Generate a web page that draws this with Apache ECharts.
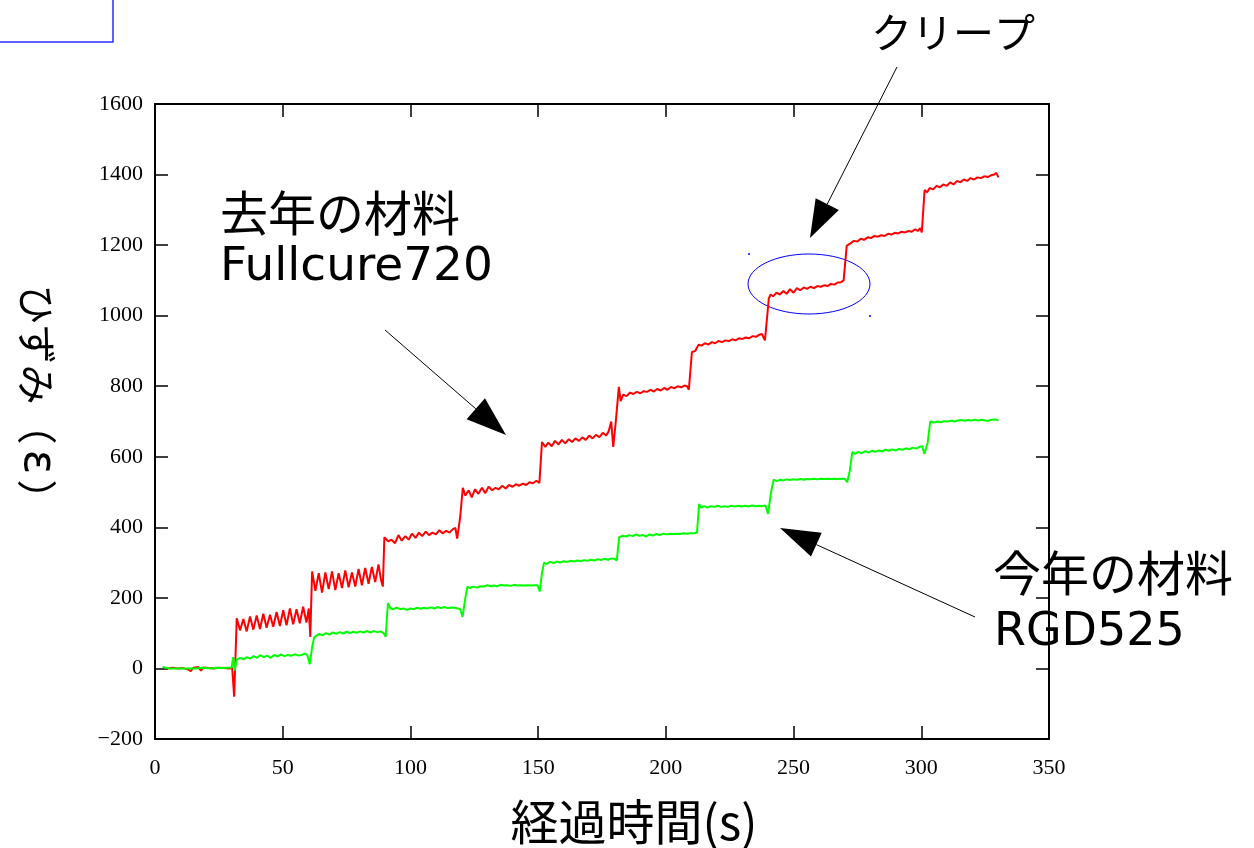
<!DOCTYPE html>
<html>
<head>
<meta charset="utf-8">
<script src="https://cdn.jsdelivr.net/npm/echarts@6/dist/echarts.min.js"></script>
<style>
html,body{margin:0;padding:0;background:#fff;}
#chart{width:1254px;height:848px;}
</style>
</head>
<body>
<div id="chart"></div>
<script>
// ---- data ----
const xTicks = [0, 50, 100, 150, 200, 250, 300, 350];
const yTicks = [-200, 0, 200, 400, 600, 800, 1000, 1200, 1400, 1600];

const redT = [5,7,9,11,13,14,15,17,18,19,21,23,25,27,29,30.2,31,32,
33.3,34.6,35.9,37.2,38.5,39.8,41.1,42.4,43.7,45,46.3,47.6,48.9,50.2,51.5,52.8,54.1,55.4,56.7,58,59.3,60.2,60.8,61.5,
62.8,64.1,65.4,66.7,68,69.3,70.6,71.9,73.2,74.5,75.8,77.1,78.4,79.7,81,82.3,83.6,84.9,86.2,87.5,88.5,89.2,89.8,
91.3,92.6,94,95.3,96.6,98,99.3,100.6,102,103.3,104.6,106,107.3,108.6,110,111.3,112.6,114,115.3,116.6,117.6,118.3,119.5,120.5,
121.5,122.8,124,125.3,126.6,128,129.3,130.6,132,133.3,134.6,136,137.3,138.6,140,141.3,142.6,144,145.3,146.6,148,149.3,150.5,151.5,
152.8,154,155.3,156.6,158,159.3,160.6,162,163.3,164.6,166,167.3,168.6,170,171.3,172.6,174,175.3,176.6,177.6,178.6,179.4,180.4,181.6,
182.3,183.3,184.6,186,187.3,188.6,190,191.3,192.6,194,195.3,196.6,198,199.3,200.6,202,203.3,204.6,206,207.3,208.3,209,210.2,
211.5,212.8,214,215.3,216.6,218,219.3,220.6,222,223.3,224.6,226,227.3,228.6,230,231.3,232.6,234,235.3,236.6,237.6,238.8,240.3,
241,242,243.3,244.6,246,247.3,248.6,250,251.3,252.6,254,255.3,256.6,258,259.3,260.6,262,263.3,264.6,266,267.3,268.6,269.6,270.8,
272.3,273.6,275,276.3,277.6,279,280.3,281.6,283,284.3,285.6,287,288.3,289.6,291,292.3,293.6,295,296.3,297.6,298.6,299.6,300.2,301.3,
302.3,303.3,304.6,306,307.3,308.6,310,311.3,312.6,314,315.3,316.6,318,319.3,320.6,322,323.3,324.6,326,327.3,328.6,329.4,330.2];
const redV = [0,2,0,1,-3,-8,2,4,-6,3,1,0,2,1,0,2,-80,142,
108,140,105,147,110,150,112,155,115,152,118,160,120,165,122,170,125,168,128,175,130,170,89,275,
220,270,215,272,225,275,222,270,228,278,230,272,232,282,236,285,240,288,245,295,250,232,372,
360,365,355,378,362,375,365,382,370,385,375,388,378,385,380,392,383,390,385,395,398,368,430,512,
490,505,485,508,495,512,497,515,505,512,508,518,510,520,515,522,518,524,520,528,525,532,526,642,
628,640,630,645,635,648,638,650,642,652,645,655,648,660,652,662,656,668,660,672,700,628,700,798,
758,776,772,782,778,784,780,786,784,790,785,792,788,795,790,798,794,800,797,802,800,790,897,
900,918,915,922,918,925,922,928,925,930,928,933,930,936,934,938,936,942,940,946,948,930,1048,
1060,1055,1065,1060,1070,1062,1075,1065,1078,1072,1080,1076,1082,1078,1084,1082,1086,1084,1090,1088,1094,1095,1100,1198,
1205,1212,1210,1218,1215,1222,1220,1226,1224,1228,1226,1232,1230,1235,1233,1238,1236,1240,1238,1245,1240,1248,1236,1356,
1350,1362,1358,1368,1364,1372,1368,1378,1372,1382,1378,1386,1382,1390,1386,1392,1390,1395,1393,1398,1400,1405,1392];

const greenT = [3,4,6,8,10,12,14,16,18,20,22,24,26,28,30,30.6,31.2,32,
33.3,34.6,36,37.3,38.6,40,41.3,42.6,44,45.3,46.6,48,49.3,50.6,52,53.3,54.6,56,57.3,58.6,59.6,60.6,61.5,62.3,
63,64.3,65.6,67,68.3,69.6,71,72.3,73.6,75,76.3,77.6,79,80.3,81.6,83,84.3,85.6,87,88.3,89.5,90.3,91.2,
92.2,93.3,94.6,96,97.3,98.6,100,101.3,102.6,104,105.3,106.6,108,109.3,110.6,112,113.3,114.6,116,117.3,118.6,119.5,120.4,121.5,122.3,
123.3,124.6,126,127.3,128.6,130,131.3,132.6,134,135.3,136.6,138,139.3,140.6,142,143.3,144.6,146,147.3,148.6,149.8,150.6,151.5,152.3,
153.3,154.6,156,157.3,158.6,160,161.3,162.6,164,165.3,166.6,168,169.3,170.6,172,173.3,174.6,176,177.3,178.6,180,180.8,181.7,
183,184.3,185.6,187,188.3,189.6,191,192.3,193.6,195,196.3,197.6,199,200.3,201.6,203,204.3,205.6,207,208.3,209.6,211,212.2,213,
213.8,215,216.3,217.6,219,220.3,221.6,223,224.3,225.6,227,228.3,229.6,231,232.3,233.6,235,236.3,237.6,239,240,241.2,242.2,
243.5,244.8,246,247.3,248.6,250,251.3,252.6,254,255.3,256.6,258,259.3,260.6,262,263.3,264.6,266,267.3,268.6,270,271,272,273,
274,275.3,276.6,278,279.3,280.6,282,283.3,284.6,286,287.3,288.6,290,291.3,292.6,294,295.3,296.6,298,299.3,300.4,301.2,302.5,303.5,
305,306.3,307.6,309,310.3,311.6,313,314.3,315.6,317,318.3,319.6,321,322.3,323.6,325,326.3,327.6,329,330.2];
const greenV = [5,2,0,0,0,0,0,0,2,1,0,2,1,2,3,32,-6,25,
30,26,32,28,35,30,38,32,36,30,38,34,40,35,38,36,40,37,38,42,38,12,60,88,
92,98,94,100,96,102,98,103,99,104,100,104,101,105,102,106,102,106,103,105,100,90,185,
170,168,172,168,170,166,170,168,172,169,172,170,173,170,174,171,174,171,173,172,170,168,146,200,232,
228,232,229,233,232,236,233,235,233,237,235,236,234,237,235,236,235,236,235,236,236,218,270,300,
296,302,299,303,300,304,302,305,303,306,304,307,305,308,306,310,307,311,308,312,310,306,372,
376,374,378,375,380,376,378,374,380,377,381,378,382,380,382,381,382,381,383,382,383,383,385,466,
456,460,456,460,458,461,458,460,458,461,459,461,459,461,459,462,460,461,460,462,438,500,535,
531,535,533,536,534,536,535,537,535,537,536,538,536,538,537,538,537,538,537,538,538,528,560,614,
608,614,610,616,612,617,614,618,615,620,617,621,618,622,620,624,621,626,623,628,630,608,640,700,
697,700,698,701,700,702,700,703,704,702,704,703,705,703,705,703,702,705,706,703];

const labels = {
  xTitle: '経過時間(s)',
  yTitleMain: 'ひずみ',
  yTitleSym: 'ε',
  creep: 'クリープ',
  oldMat: ['去年の材料', 'Fullcure720'],
  newMat: ['今年の材料', 'RGD525']
};

// ---- build ----
const zip = (t, v) => t.map((x, i) => [x, v[i]]);
const chart = echarts.init(document.getElementById('chart'), null, {renderer: 'canvas'});

const serif = '"Liberation Serif", "Times New Roman", serif';
const cjk = '"Noto Sans CJK JP", "Noto Sans", sans-serif';
const latin = '"DejaVu Sans", "Noto Sans", sans-serif';

function axisCommon() {
  return {
    axisLine: {show: true, onZero: false, lineStyle: {color: '#000', width: 2}},
    axisTick: {show: true, inside: true, length: 13, lineStyle: {color: '#000', width: 1.5}},
    axisLabel: {show: false},
    splitLine: {show: false}
  };
}

function arrow(x1, y1, tx, ty, len, half) {
  const dx = tx - x1, dy = ty - y1;
  const L = Math.sqrt(dx * dx + dy * dy);
  const ux = dx / L, uy = dy / L;
  const bx = tx - ux * len, by = ty - uy * len;
  const px = -uy * half, py = ux * half;
  return [
    {type: 'line', shape: {x1: x1, y1: y1, x2: bx, y2: by}, style: {stroke: '#000', lineWidth: 1}, silent: true},
    {type: 'polygon', shape: {points: [[tx, ty], [bx + px, by + py], [bx - px, by - py]]}, style: {fill: '#000'}, silent: true}
  ];
}

const fmtMinus = v => String(v).replace('-', '\u2212');

const option = {
  animation: false,
  backgroundColor: '#fff',
  grid: {left: 155, right: 205, top: 104, bottom: 109, containLabel: false},
  xAxis: [
    Object.assign(axisCommon(), {
      type: 'value', position: 'bottom', min: 0, max: 350, interval: 50,
      axisLabel: {show: true, color: '#000', fontFamily: serif, fontSize: 22, margin: 18, formatter: fmtMinus}
    }),
    Object.assign(axisCommon(), {
      type: 'value', position: 'top', min: 0, max: 350, interval: 50
    })
  ],
  yAxis: [
    Object.assign(axisCommon(), {
      type: 'value', position: 'left', min: -200, max: 1600, interval: 200,
      axisLabel: {show: true, color: '#000', fontFamily: serif, fontSize: 22, margin: 12, formatter: fmtMinus}
    }),
    Object.assign(axisCommon(), {
      type: 'value', position: 'right', min: -200, max: 1600, interval: 200
    })
  ],
  series: [
    {
      name: 'Fullcure720', type: 'line', data: zip(redT, redV), showSymbol: false, symbol: 'none',
      lineStyle: {color: '#ff0000', width: 2}, itemStyle: {color: '#ff0000'}, clip: true
    },
    {
      name: 'RGD525', type: 'line', data: zip(greenT, greenV), showSymbol: false, symbol: 'none',
      lineStyle: {color: '#00ff00', width: 2}, itemStyle: {color: '#00ff00'}, clip: true
    }
  ],
  graphic: [
    {type: 'polyline', shape: {points: [[0, 42], [113, 42], [113, 0]]}, style: {stroke: '#2b2bff', lineWidth: 1.5, fill: null}, silent: true},
    {type: 'ellipse', shape: {cx: 809, cy: 284, rx: 61, ry: 30}, style: {stroke: '#0000ff', lineWidth: 1, fill: null}, silent: true},
    {type: 'rect', shape: {x: 748, y: 253, width: 2, height: 2}, style: {fill: '#4040ff'}, silent: true},
    {type: 'rect', shape: {x: 869, y: 315, width: 2, height: 2}, style: {fill: '#4040ff'}, silent: true},
    ...arrow(897, 67, 810, 238, 38, 13),
    ...arrow(385, 330, 506, 435, 40, 14),
    ...arrow(975, 617, 780, 528, 40, 13),
    {type: 'text', style: {text: labels.creep, x: 871, y: 32, font: '41px ' + cjk, fill: '#000', textAlign: 'left', textVerticalAlign: 'middle'}, silent: true},
    {type: 'text', style: {text: labels.oldMat[0], x: 220, y: 213, font: '48px ' + cjk, fill: '#000', textAlign: 'left', textVerticalAlign: 'middle'}, silent: true},
    {type: 'text', style: {text: labels.oldMat[1], x: 220, y: 268, font: '47px ' + latin, fill: '#000', textAlign: 'left', textVerticalAlign: 'middle'}, silent: true},
    {type: 'text', style: {text: labels.newMat[0], x: 993, y: 573, font: '48px ' + cjk, fill: '#000', textAlign: 'left', textVerticalAlign: 'middle'}, silent: true},
    {type: 'text', style: {text: labels.newMat[1], x: 994, y: 633, font: '46px ' + latin, fill: '#000', textAlign: 'left', textVerticalAlign: 'middle'}, silent: true},
    {type: 'text', style: {text: labels.xTitle, x: 634, y: 822, font: '48px ' + cjk, fill: '#000', textAlign: 'center', textVerticalAlign: 'middle'}, silent: true},
    {type: 'text', x: 37, y: 402, rotation: -Math.PI / 2, silent: true,
      style: {
        text: '{a|' + labels.yTitleMain + '（}{b|' + labels.yTitleSym + '}{a|）}',
        x: 0, y: 0, textAlign: 'center', textVerticalAlign: 'middle', fill: '#000',
        rich: {
          a: {fontFamily: cjk, fontSize: 40, fill: '#000', color: '#000'},
          b: {fontFamily: latin, fontSize: 46, fill: '#000', color: '#000', padding: [0, 5, 0, 5]}
        }
      }
    }
  ]
};
chart.setOption(option);
</script>
</body>
</html>
